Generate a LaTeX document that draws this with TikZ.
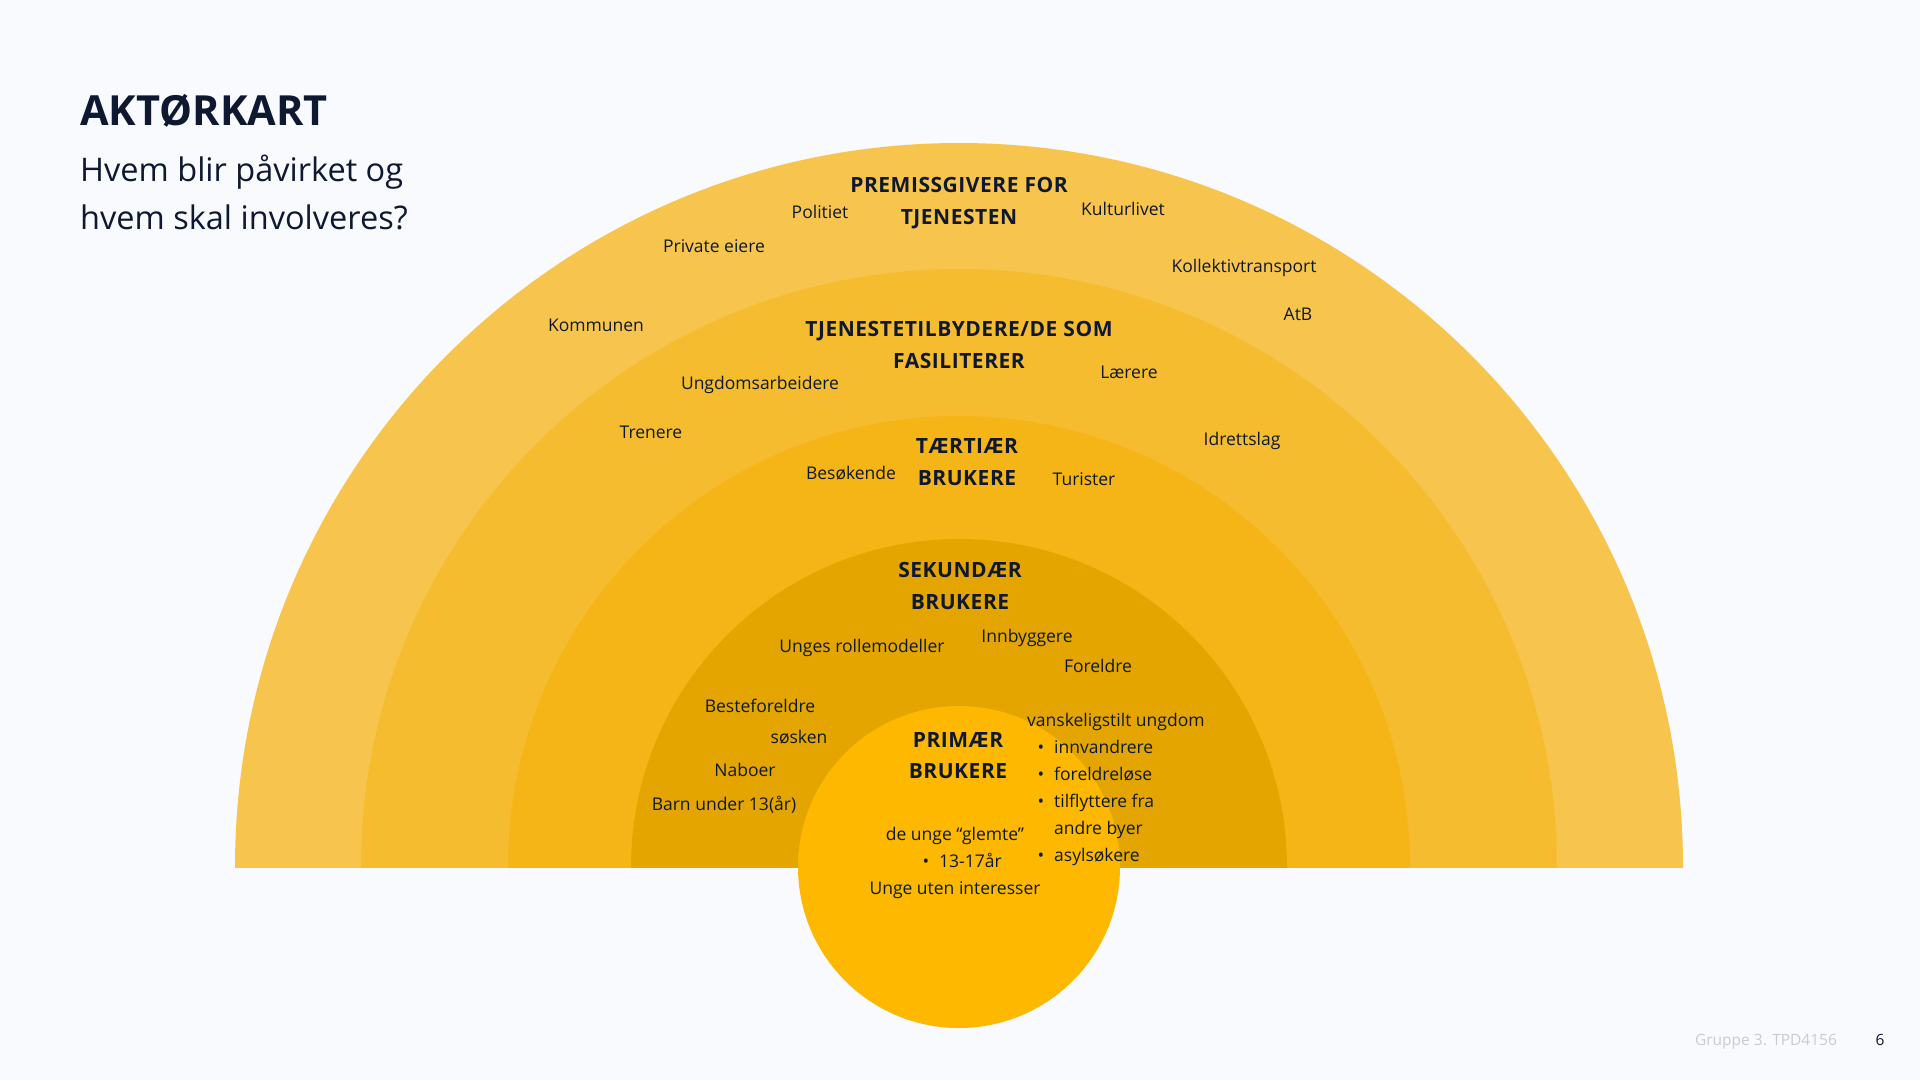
\documentclass[tikz,border=0pt]{standalone}
\usepackage{fontspec}
\setmainfont{Open Sans}
\definecolor{bg}{HTML}{F8FAFE}
\definecolor{ringA}{HTML}{F7C54D}
\definecolor{ringB}{HTML}{F6BC30}
\definecolor{ringC}{HTML}{F5B517}
\definecolor{ringD}{HTML}{E5A500}
\definecolor{ringE}{HTML}{FFB800}
\definecolor{ink}{HTML}{0E1830}
\definecolor{foot}{HTML}{C9CBD0}
\begin{document}
\begin{tikzpicture}[x=1pt,y=-1pt,
  lbl/.style={inner sep=0pt, anchor=mid, font=\fontsize{17.5}{21}\selectfont, text=ink},
  lblw/.style={lbl, anchor=mid west},
  hd/.style={inner sep=0pt, anchor=mid, font=\fontsize{21}{25}\selectfont\bfseries\addfontfeatures{LetterSpace=2.5}, text=ink}]
\fill[bg] (0,0) rectangle (1920,1080);
\useasboundingbox (0,0) rectangle (1920,1080);
\coordinate (ctr) at (959,867);
\begin{scope}
  \clip (0,0) rectangle (1920,867);
  \fill[ringA] (ctr) circle[radius=724];
  \fill[ringB] (ctr) circle[radius=598];
  \fill[ringC] (ctr) circle[radius=451];
  \fill[ringD] (ctr) circle[radius=328];
\end{scope}
\fill[ringE] (ctr) circle[radius=161];

% title
\node[inner sep=0pt, anchor=mid west, font=\fontsize{41.5}{48}\selectfont\bfseries, text=ink] (title) at (80,123) {AKTØRKART};
\node[inner sep=0pt, anchor=mid west, font=\fontsize{32.5}{38}\selectfont, text=ink] (sub1) at (80,179) {Hvem blir påvirket og};
\node[inner sep=0pt, anchor=mid west, font=\fontsize{32.5}{38}\selectfont, text=ink] (sub2) at (80,227) {hvem skal involveres?};

% outer ring
\node[hd] (h1a) at (959,190) {PREMISSGIVERE FOR};
\node[hd] (h1b) at (959,222) {TJENESTEN};
\node[lbl] (politiet) at (820,216) {Politiet};
\node[lbl] (kultur) at (1123,213) {Kulturlivet};
\node[lbl] (private) at (714,250) {Private eiere};
\node[lbl] (kollektiv) at (1244,270) {Kollektivtransport};
\node[lbl] (atb) at (1298,318) {AtB};
\node[lbl] (kommunen) at (596,329) {Kommunen};

% second ring
\node[hd] (h2a) at (959,334) {TJENESTETILBYDERE/DE SOM};
\node[hd] (h2b) at (959,366) {FASILITERER};
\node[lbl] (laerere) at (1129,376) {Lærere};
\node[lbl] (ungdomsarb) at (760,387) {Ungdomsarbeidere};
\node[lbl] (trenere) at (651,436) {Trenere};
\node[lbl] (idrett) at (1242,443) {Idrettslag};

% third ring
\node[hd] (h3a) at (967,451) {TÆRTIÆR};
\node[hd] (h3b) at (967,483) {BRUKERE};
\node[lbl] (besok) at (851,477) {Besøkende};
\node[lbl] (turister) at (1084,483) {Turister};

% fourth ring
\node[hd] (h4a) at (960,575) {SEKUNDÆR};
\node[hd] (h4b) at (960,607) {BRUKERE};
\node[lbl] (rolle) at (862,650) {Unges rollemodeller};
\node[lbl] (innbygg) at (1027,640) {Innbyggere};
\node[lbl] (foreldre) at (1098,670) {Foreldre};
\node[lbl] (beste) at (760,710) {Besteforeldre};
\node[lbl] (sosken) at (799,741) {søsken};
\node[lbl] (naboer) at (745,774) {Naboer};
\node[lbl] (barn) at (724,808) {Barn under 13(år)};

\node[lblw] (vansk) at (1027,724) {vanskeligstilt ungdom};
\node[lbl] (b1) at (1041,751) {•};
\node[lblw] (innv) at (1054,751) {innvandrere};
\node[lbl] (b2) at (1041,778) {•};
\node[lblw] (forel) at (1054,778) {foreldreløse};
\node[lbl] (b3) at (1041,805) {•};
\node[lblw] (tilfl) at (1054,805) {tilflyttere fra};
\node[lblw] (andre) at (1054,832) {andre byer};
\node[lbl] (b4) at (1041,859) {•};
\node[lblw] (asyl) at (1054,859) {asylsøkere};

% primary
\node[hd] (h5a) at (958,745) {PRIMÆR};
\node[hd] (h5b) at (958,776) {BRUKERE};
\node[lbl] (glemte) at (955,838) {de unge “glemte”};
\node[lbl] (b5) at (926,865) {•};
\node[lblw] (alder) at (939,865) {13-17år};
\node[lbl] (uten) at (955,892) {Unge uten interesser};

% footer
\node[inner sep=0pt, anchor=mid, font=\fontsize{15.5}{18}\selectfont, text=foot] (gruppe) at (1766,1043) {Gruppe 3. TPD4156};
\node[inner sep=0pt, anchor=mid, font=\fontsize{15.5}{18}\selectfont, text=ink] (page) at (1880,1043) {6};
\end{tikzpicture}
\end{document}
